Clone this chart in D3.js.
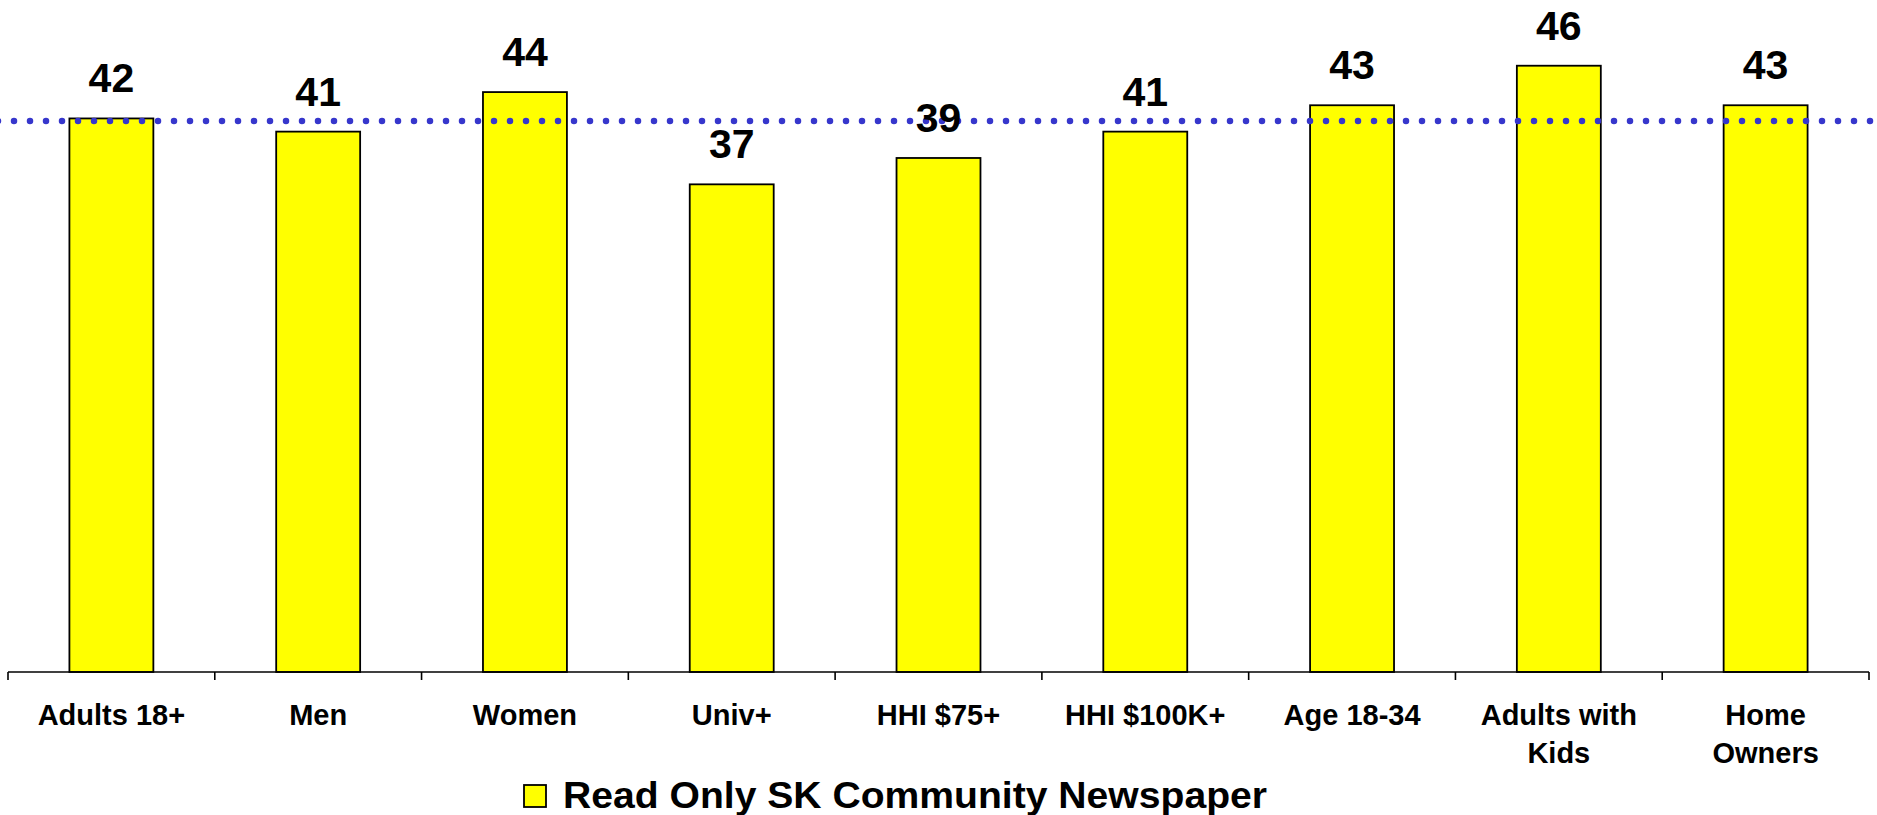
<!DOCTYPE html>
<html>
<head>
<meta charset="utf-8">
<script src="https://cdn.jsdelivr.net/npm/d3@7"></script>
<style>
  html, body { margin: 0; padding: 0; background: #fff; }
  svg { display: block; }
  text { font-family: "Liberation Sans", Arial, sans-serif; font-weight: bold; fill: #000; }
</style>
</head>
<body>
<svg id="chart" width="1877" height="815"></svg>
<script>
const categories = [["Adults 18+"], ["Men"], ["Women"], ["Univ+"], ["HHI $75+"], ["HHI $100K+"], ["Age 18-34"], ["Adults with", "Kids"], ["Home", "Owners"]];
const values = [42, 41, 44, 37, 39, 41, 43, 46, 43];
const averageLine = 41.8;
const seriesName = "Read Only SK Community Newspaper";

const W = 1877, H = 815;
const svg = d3.select("#chart");
const keys = categories.map(c => c.join(" "));

const x = d3.scaleBand().domain(keys).range([8, 1869]).paddingInner(0.594).paddingOuter(0.297);
const y = d3.scaleLinear().domain([0, 50]).range([672, 13]);
const step = x.step();

// bars
svg.append("g").selectAll("rect").data(values).join("rect")
  .attr("x", (d, i) => x(keys[i]))
  .attr("y", d => y(d))
  .attr("width", x.bandwidth())
  .attr("height", d => y(0) - y(d))
  .attr("fill", "#FFFF00")
  .attr("stroke", "#000")
  .attr("stroke-width", 1.8);

// axis line and ticks
const axisG = svg.append("g");
axisG.append("line")
  .attr("x1", x.range()[0]).attr("x2", x.range()[1])
  .attr("y1", y(0)).attr("y2", y(0))
  .attr("stroke", "#000").attr("stroke-width", 1.6);
axisG.selectAll("line.tick").data(d3.range(keys.length + 1)).join("line")
  .attr("class", "tick")
  .attr("x1", i => x.range()[0] + i * step).attr("x2", i => x.range()[0] + i * step)
  .attr("y1", y(0)).attr("y2", y(0) + 8)
  .attr("stroke", "#000").attr("stroke-width", 1.6);

// category labels
const lab = svg.append("g").selectAll("text").data(categories).join("text")
  .attr("text-anchor", "middle")
  .attr("font-size", 29)
  .attr("x", (d, i) => x(keys[i]) + x.bandwidth() / 2)
  .attr("y", 725);
lab.selectAll("tspan").data(d => d).join("tspan")
  .attr("x", function() { return d3.select(this.parentNode).attr("x"); })
  .attr("dy", (d, j) => j === 0 ? 0 : 38)
  .text(d => d);

// dotted average line
svg.append("line")
  .attr("x1", -2).attr("x2", W)
  .attr("y1", y(averageLine)).attr("y2", y(averageLine))
  .attr("stroke", "#3636CC")
  .attr("stroke-width", 6.5)
  .attr("stroke-linecap", "round")
  .attr("stroke-dasharray", "0 16");

// value labels
svg.append("g").selectAll("text").data(values).join("text")
  .attr("text-anchor", "middle")
  .attr("font-size", 41)
  .attr("x", (d, i) => x(keys[i]) + x.bandwidth() / 2)
  .attr("y", d => y(d) - 26)
  .text(d => d);

// legend
const lg = svg.append("g");
lg.append("rect").attr("x", 524).attr("y", 785).attr("width", 22).attr("height", 22)
  .attr("fill", "#FFFF00").attr("stroke", "#000").attr("stroke-width", 1.8);
lg.append("text").attr("x", 563).attr("y", 808).attr("font-size", 36)
  .attr("textLength", 704).attr("lengthAdjust", "spacingAndGlyphs")
  .text(seriesName);
</script>
</body>
</html>
